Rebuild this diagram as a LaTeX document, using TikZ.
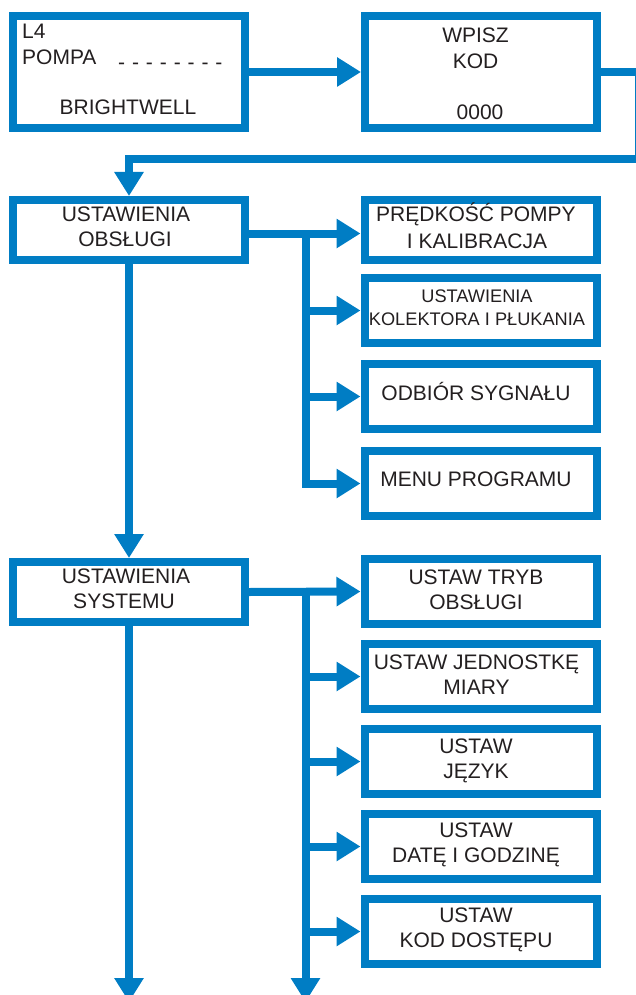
\documentclass[tikz,border=0pt]{standalone}
\usepackage{fontspec}
\setmainfont{Liberation Sans}
\usetikzlibrary{arrows.meta}
\definecolor{fblue}{RGB}{0,125,196}
\definecolor{ftext}{RGB}{35,31,32}
\begin{document}
\begin{tikzpicture}[x=1pt,y=-1pt,
  box/.style={draw=fblue,line width=8pt,minimum width=232pt,inner sep=0pt,fill=white},
  tall/.style={box,minimum height=112pt},
  mid/.style={box,minimum height=60pt},
  sub/.style={box,minimum height=65pt},
  txt/.style={text=ftext,font=\fontsize{21}{25}\selectfont,inner sep=0pt,anchor=base},
  stxt/.style={txt,font=\fontsize{18.2}{22}\selectfont},
  conn/.style={draw=fblue,line width=8pt,line join=miter},
  arr/.style={conn,-{Triangle[length=24pt,width=28pt]}}]
\useasboundingbox (0,0) rectangle (636,995);
% boxes
\node[tall] (b1) at (129,72) {};
\node[tall] (b2) at (481,72) {};
\node[mid] (b3) at (129,230) {};
\node[mid] (r1) at (480.5,230) {};
\node[sub] (r2) at (480.5,310.5) {};
\node[sub] (r3) at (480.5,396.5) {};
\node[sub] (r4) at (480.5,483.5) {};
\node[mid] (sys) at (129,592) {};
\node[sub] (s1) at (480.5,591.5) {};
\node[sub] (s2) at (480.5,676.5) {};
\node[sub] (s3) at (480.5,761.5) {};
\node[sub] (s4) at (480.5,846.5) {};
\node[sub] (s5) at (480.5,931.5) {};
% connectors
\draw[arr] (b1.east) -- (b2.west);
\coordinate (rc1) at (638.5,72);
\coordinate (rc2) at (638.5,159);
\coordinate (lc) at (129,159);
\draw[arr] (b2.east) -- (rc1) -- (rc2) -- (lc) -- (b3.north);
\draw[arr] (b3.south) -- (sys.north);
\coordinate (bl) at (129,1002);
\draw[arr] (sys.south) -- (bl);
\coordinate (j1) at (305.5,233.5);
\draw[arr] (b3.east |- j1) -- (r1.west |- j1);
\draw[arr] (j1) |- (r4.west);
\draw[arr] (j1 |- r2.west) -- (r2.west);
\draw[arr] (j1 |- r3.west) -- (r3.west);
\coordinate (j2) at (305.5,592);
\coordinate (br) at (305.5,1002);
\draw[arr] (sys.east) -- (s1.west);
\draw[arr] (j2) -- (br);
\draw[arr] (j2 |- s2.west) -- (s2.west);
\draw[arr] (j2 |- s3.west) -- (s3.west);
\draw[arr] (j2 |- s4.west) -- (s4.west);
\draw[arr] (j2 |- s5.west) -- (s5.west);
% texts
\node[txt,anchor=base west] (t1a) at (22,38.5) {L4};
\node[txt,anchor=base west] (t1b) at (22,64.2) {POMPA};
\node[txt,anchor=base west] (t1c) at (118,70) {-\hspace{6.9pt}-\hspace{6.9pt}-\hspace{6.9pt}-\hspace{6.9pt}-\hspace{6.9pt}-\hspace{6.9pt}-\hspace{6.9pt}-};
\node[txt] (t1d) at (128,114.5) {BRIGHTWELL};
\node[txt] (t2a) at (475.5,43) {WPISZ};
\node[txt] (t2b) at (475.5,68.7) {KOD};
\node[txt] (t2c) at (480,119.7) {0000};
\node[txt] (t3a) at (126,221.2) {USTAWIENIA};
\node[txt] (t3b) at (125,246.5) {OBSŁUGI};
\node[txt] (tr1a) at (476,222) {PRĘDKOŚĆ POMPY};
\node[txt] (tr1b) at (477,248) {I KALIBRACJA};
\node[stxt] (tr2a) at (477,302.3) {USTAWIENIA};
\node[stxt] (tr2b) at (477,325.7) {KOLEKTORA I PŁUKANIA};
\node[txt] (tr3) at (476,400) {ODBIÓR SYGNAŁU};
\node[txt] (tr4) at (476,486.5) {MENU PROGRAMU};
\node[txt] (tsa) at (126,583.2) {USTAWIENIA};
\node[txt] (tsb) at (124,608.2) {SYSTEMU};
\node[txt] (ts1a) at (476,584.2) {USTAW TRYB};
\node[txt] (ts1b) at (476,609.3) {OBSŁUGI};
\node[txt] (ts2a) at (476.5,669.5) {USTAW JEDNOSTKĘ};
\node[txt] (ts2b) at (476.5,694.5) {MIARY};
\node[txt] (ts3a) at (476,753.3) {USTAW};
\node[txt] (ts3b) at (476,778.5) {JĘZYK};
\node[txt] (ts4a) at (476,837.5) {USTAW};
\node[txt] (ts4b) at (476,862.5) {DATĘ I GODZINĘ};
\node[txt] (ts5a) at (476,922.5) {USTAW};
\node[txt] (ts5b) at (476,947.5) {KOD DOSTĘPU};
\end{tikzpicture}
\end{document}
